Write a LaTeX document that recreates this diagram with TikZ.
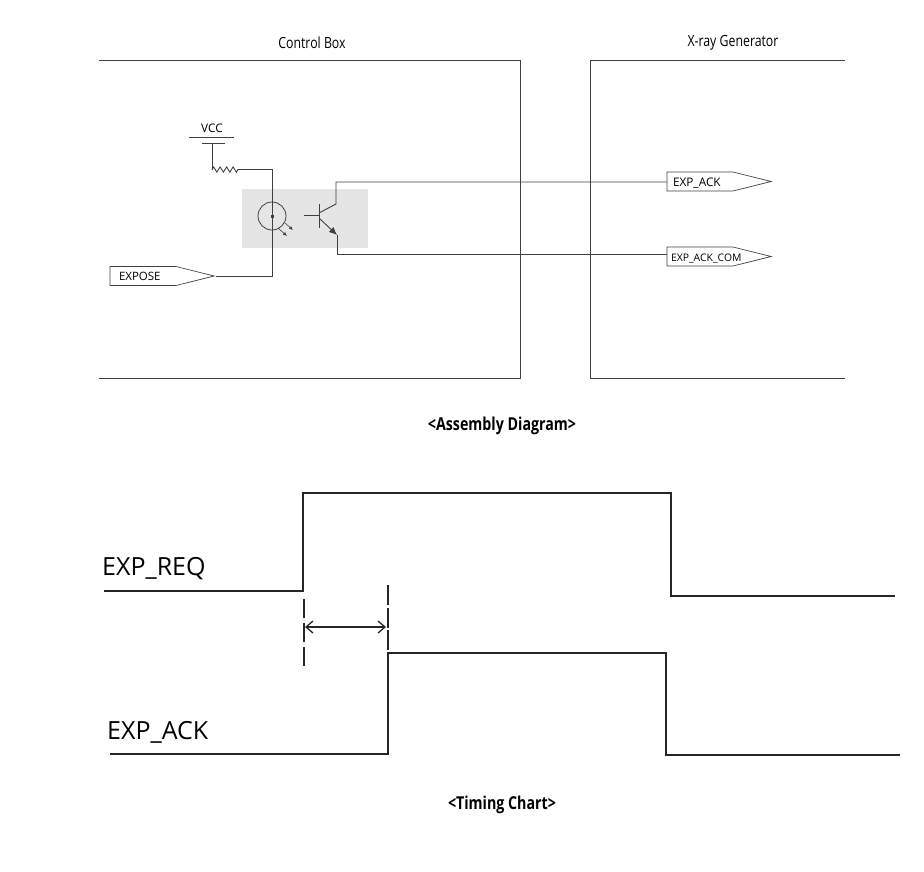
\documentclass[tikz,border=0pt]{standalone}
\usepackage{fontspec}
\setmainfont[FakeStretch=0.8]{Open Sans}
\newfontfamily\tagfont{Open Sans}
\usetikzlibrary{arrows.meta,shapes.symbols,decorations.pathmorphing}
\definecolor{wiregray}{gray}{0.25}
\definecolor{shadegray}{gray}{0.9}
\begin{document}
\begin{tikzpicture}[x=1pt,y=-1pt,
  wire/.style={draw=wiregray,line width=0.9pt},
  trace/.style={draw=black!85,line width=2pt},
  descr/.style={inner sep=0pt,font=\fontsize{15.4}{18}\selectfont},
  title/.style={inner sep=0pt,font=\fontsize{17.8}{20}\selectfont\bfseries},
  wave/.style={inner sep=0pt,anchor=west,font=\tagfont\fontsize{25}{30}\selectfont},
  tagbox/.style={signal,signal to=east,signal pointer angle=#1,draw=wiregray,line width=0.7pt,
    inner xsep=0pt,inner ysep=0pt,minimum height=19pt,text height=9pt,text depth=0pt,align=left}]
\useasboundingbox (0,0) rectangle (924,871);
\fill[shadegray] (242,189) rectangle (368,248);
\draw[wire] (99,60) -- (520,60) -- (520,378) -- (99,378);
\draw[wire] (845,60) -- (590,60) -- (590,378) -- (845,378);
\node[descr] (boxname) at (312,43) {Control Box};
\node[descr] (genname) at (733,43) {X-ray Generator};
\node[title] (assembly) at (502,426) {<Assembly Diagram>};
\node[title] (timing) at (502,805) {<Timing Chart>};
% tags
\node[tagbox=28,text width=66pt] (expose) at (143,276) {\hspace*{9pt}\tagfont\fontsize{11.5}{12}\selectfont EXPOSE};
\node[tagbox=28,text width=66pt] (expack) at (700,181.5) {\hspace*{6pt}\tagfont\fontsize{11.8}{12}\selectfont EXP\_ACK};
\node[tagbox=28,text width=66pt] (expcom) at (700,256.5) {\hspace*{4pt}\tagfont\fontsize{10.4}{12}\selectfont EXP\_ACK\_COM};
% supply
\node[inner sep=0pt,font=\tagfont\fontsize{11.8}{12}\selectfont] (vcc) at (212,128) {VCC};
\coordinate (rail1) at (189,137.5);
\coordinate (rail2) at (234,137.5);
\coordinate (rail3) at (202,143);
\coordinate (rail4) at (225,143);
\coordinate (railm) at (212,143);
\coordinate (resa) at (212,169.5);
\coordinate (resb) at (240,169.5);
\coordinate (led) at (272,216);
\coordinate (ledin) at (272,276);
\draw[wire] (rail1) -- (rail2);
\draw[wire] (rail3) -- (rail4);
\draw[wire] (railm) -- (resa);
\draw[wire,decorate,decoration={zigzag,segment length=6.5pt,amplitude=2.6pt}] (resa) -- (resb);
\draw[wire] (resb) -| (ledin) -- (expose.east);
% led
\node[circle,draw=wiregray,line width=0.8pt,minimum size=28pt,inner sep=0pt] (ledring) at (led) {};
\fill[wiregray] (270.5,214.5) rectangle (273.5,217.5);
\draw[wire,line width=0.6pt,-{Latex[length=4pt,width=3.5pt]}] (278,228) -- (287,236);
\draw[wire,line width=0.6pt,-{Latex[length=4pt,width=3.5pt]}] (285,223) -- (293,230);
% transistor
\coordinate (basea) at (319,204);
\coordinate (baseb) at (319,228);
\coordinate (basein) at (304,215);
\coordinate (basem) at (319,215);
\coordinate (colla) at (319,213);
\coordinate (collb) at (336,204);
\coordinate (collc) at (336,182);
\coordinate (emita) at (319,218);
\coordinate (emitb) at (337,235);
\coordinate (emitc) at (337,254);
\draw[wire] (basea) -- (baseb);
\draw[wire] (basein) -- (basem);
\draw[wire] (colla) -- (collb) -- (collc) -- (collc -| expack.west);
\draw[wire,-{Latex[length=8pt,width=7pt]}] (emita) -- (emitb);
\draw[wire] (emitb) -- (emitc) -- (emitc -| expcom.west);
% timing
\node[wave] (reqname) at (102,569) {EXP\_REQ};
\node[wave] (ackname) at (107,732) {EXP\_ACK};
\coordinate (req0) at (104,591);
\coordinate (req1) at (303,591);
\coordinate (req2) at (303,493);
\coordinate (req3) at (671,493);
\coordinate (req4) at (671,596);
\coordinate (req5) at (895,596);
\coordinate (ack0) at (110,754);
\coordinate (ack1) at (388,754);
\coordinate (ack2) at (388,653);
\coordinate (ack3) at (666,653);
\coordinate (ack4) at (666,755);
\coordinate (ack5) at (900,755);
\draw[trace] (req0) -- (req1) -- (req2) -- (req3) -- (req4) -- (req5);
\draw[trace] (ack0) -- (ack1) -- (ack2) -- (ack3) -- (ack4) -- (ack5);
\coordinate (marka) at (304,599);
\coordinate (markb) at (304,666);
\coordinate (markc) at (388,585);
\coordinate (markd) at (388,650);
\draw[draw=black!85,line width=1.2pt,dash pattern=on 19pt off 5pt] (marka) -- (markb);
\draw[draw=black!85,line width=1.2pt,dash pattern=on 20pt off 2.5pt] (markc) -- (markd);
\coordinate (spana) at (305,627);
\coordinate (spanb) at (386,627);
\draw[draw=black!85,line width=1.3pt,{Straight Barb[length=7pt,width=12pt]}-{Straight Barb[length=7pt,width=12pt]}] (spana) -- (spanb);
\end{tikzpicture}
\end{document}
